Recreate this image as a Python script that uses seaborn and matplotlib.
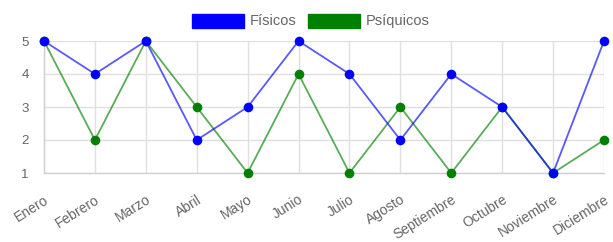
import matplotlib
matplotlib.use("Agg")
import matplotlib.pyplot as plt
import seaborn as sns
import pandas as pd
from matplotlib.patches import Patch

meses = ["Enero", "Febrero", "Marzo", "Abril", "Mayo", "Junio", "Julio",
         "Agosto", "Septiembre", "Octubre", "Noviembre", "Diciembre"]
fisicos = [5, 4, 5, 2, 3, 5, 4, 2, 4, 3, 1, 5]
psiquicos = [5, 2, 5, 3, 1, 4, 1, 3, 1, 3, 1, 2]
series = ["Físicos", "Psíquicos"]
colores = {"Físicos": "#0000ff", "Psíquicos": "#008000"}
yticks = [1, 2, 3, 4, 5]

sns.set_theme(style="white")
plt.rcParams['font.family'] = ['Liberation Sans', 'DejaVu Sans']

df = pd.DataFrame({
    "mes": meses * 2,
    "x": list(range(len(meses))) * 2,
    "valor": fisicos + psiquicos,
    "serie": [series[0]] * len(meses) + [series[1]] * len(meses),
})

fig = plt.figure(figsize=(6.13, 2.42), dpi=100)
ax = fig.add_axes([44 / 613, 1 - 173 / 242, 560 / 613, 132 / 242])

hue_order = series[::-1]  # draw Físicos on top
sns.lineplot(data=df, x="x", y="valor", hue="serie", hue_order=hue_order,
             palette=colores, ax=ax, linewidth=1.3, alpha=0.65, legend=False,
             zorder=3)
for s in hue_order:
    sub = df[df.serie == s]
    sns.scatterplot(data=sub, x="x", y="valor", color=colores[s], s=48,
                    edgecolor=colores[s], linewidth=0, ax=ax, legend=False,
                    zorder=4, clip_on=False)

ax.set_xlim(0, len(meses) - 1)
ax.set_ylim(1, 5)
ax.set_xticks(range(len(meses)))
ax.set_xticklabels(meses, rotation=32, ha="right", rotation_mode="anchor",
                   fontsize=10)
ax.set_yticks(yticks)
ax.set_xlabel("")
ax.set_ylabel("")
gc = "#e0e0e0"
ax.grid(True, color=gc, linewidth=1)
for sp in ["top", "right"]:
    ax.spines[sp].set_visible(False)
for sp in ["left", "bottom"]:
    ax.spines[sp].set_color("#d0d0d0")
    ax.spines[sp].set_linewidth(1)
ax.tick_params(axis="both", length=7, color=gc, width=1, labelcolor="#666666")
ax.tick_params(axis="y", labelsize=9.5, pad=4)
ax.tick_params(axis="x", pad=7)
for c in ax.collections:
    c.set_clip_on(False)

handles = [Patch(facecolor=colores[s], edgecolor=colores[s]) for s in series]
fig.legend(handles, series, loc="center", bbox_to_anchor=(311 / 613, 1 - 21 / 242),
           ncol=2, frameon=False, fontsize=10.5, labelcolor="#666666",
           handlelength=3.57, handleheight=1.1, handletextpad=0.4,
           columnspacing=0.8, borderaxespad=0)

fig.savefig("out.png", dpi=100, facecolor="white")
